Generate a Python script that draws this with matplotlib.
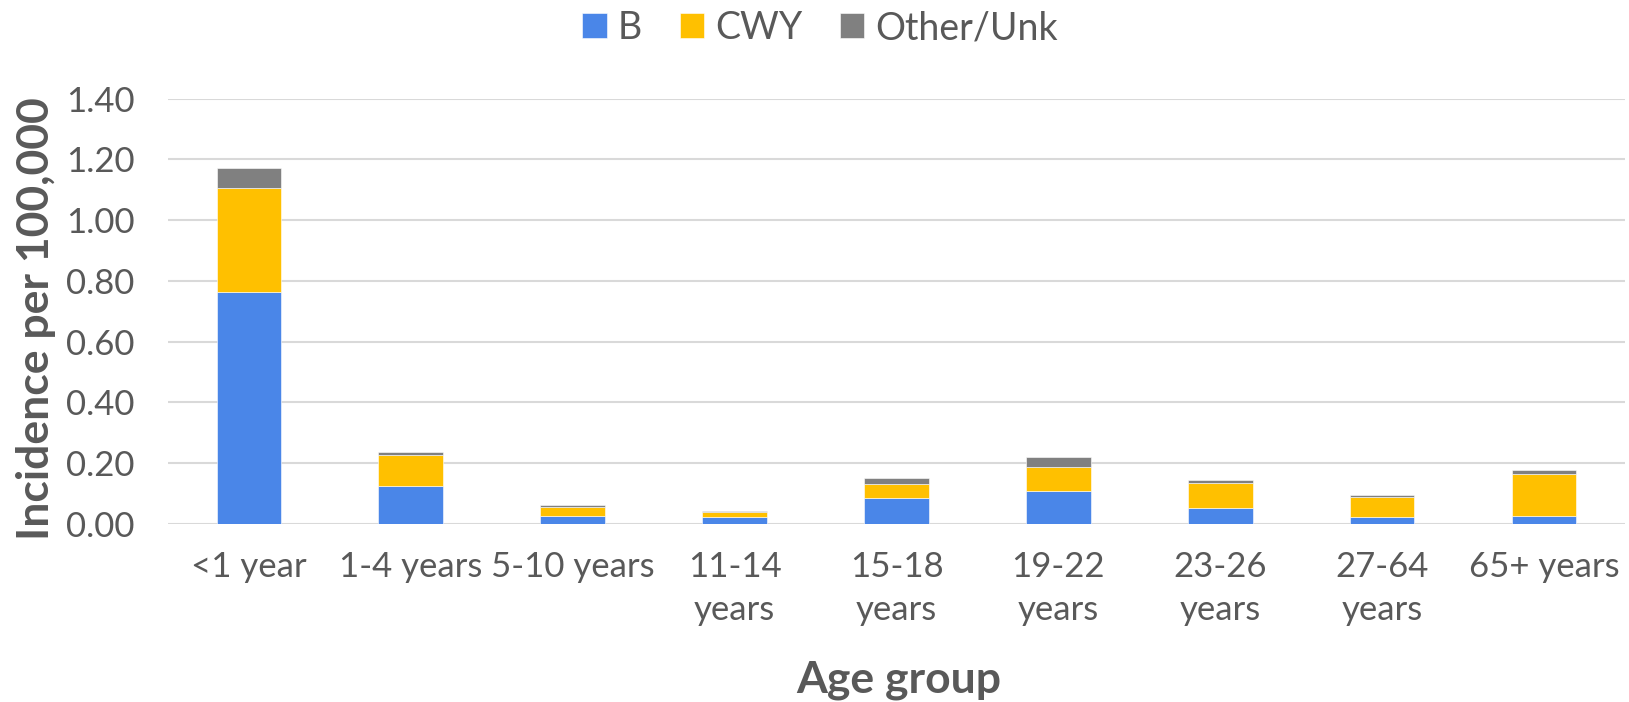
import matplotlib
matplotlib.use("Agg")
import matplotlib.pyplot as plt
import numpy as np

plt.rcParams['font.family'] = ['Lato', 'DejaVu Sans']

categories = ["<1 year", "1-4 years", "5-10 years", "11-14\nyears", "15-18\nyears",
              "19-22\nyears", "23-26\nyears", "27-64\nyears", "65+ years"]
b_vals = [0.764, 0.125, 0.026, 0.023, 0.086, 0.109, 0.053, 0.023, 0.026]
cwy_vals = [0.342, 0.100, 0.030, 0.016, 0.045, 0.079, 0.081, 0.064, 0.137]
other_vals = [0.066, 0.011, 0.006, 0.004, 0.020, 0.032, 0.010, 0.008, 0.014]
series_names = ["B", "CWY", "Other/Unk"]
colors = ["#4A86E8", "#FFC000", "#808080"]
yticks = [0.0, 0.2, 0.4, 0.6, 0.8, 1.0, 1.2, 1.4]

fig = plt.figure(figsize=(16.29, 7.02), dpi=100)
ax = fig.add_axes([0.1031, 0.254, 0.8944, 0.6053])

x = np.arange(len(categories))
bottom = np.zeros(len(categories))
handles = []
for vals, name, c in zip([b_vals, cwy_vals, other_vals], series_names, colors):
    h = ax.bar(x, vals, width=0.4, bottom=bottom, color=c, label=name,
               edgecolor='white', linewidth=0.4, zorder=3)
    bottom += np.array(vals)
    handles.append(h)

ax.set_xlim(-0.5, len(categories) - 0.5)
ax.set_ylim(0, 1.4)
ax.set_yticks(yticks)
ax.set_yticklabels([f"{v:.2f}" for v in yticks])
ax.set_xticks(x)
ax.set_xticklabels(categories, linespacing=1.4)
ax.grid(axis='y', color='#d9d9d9', linewidth=1.5, zorder=0)
for s in ax.spines.values():
    s.set_visible(False)
ax.tick_params(axis='both', length=0, labelsize=25, labelcolor='#595959')
ax.tick_params(axis='y', pad=24)
ax.tick_params(axis='x', pad=20)

fig.text(36 / 1629, 1 - 319 / 702, "Incidence per 100,000", rotation=90, ha='center', va='center',
         fontsize=32, fontweight='bold', color='#595959')
fig.text(899 / 1629, 1 - 680 / 702, "Age group", ha='center', va='center',
         fontsize=32, fontweight='bold', color='#595959')

leg = fig.legend(handles=handles, labels=series_names, loc='center', bbox_to_anchor=(0.5035, 0.96),
                 ncol=3, frameon=False, fontsize=27, handlelength=0.65, handleheight=0.65,
                 handletextpad=0.3, columnspacing=1.0)
for t in leg.get_texts():
    t.set_color('#595959')

fig.savefig("out.png", dpi=100)
